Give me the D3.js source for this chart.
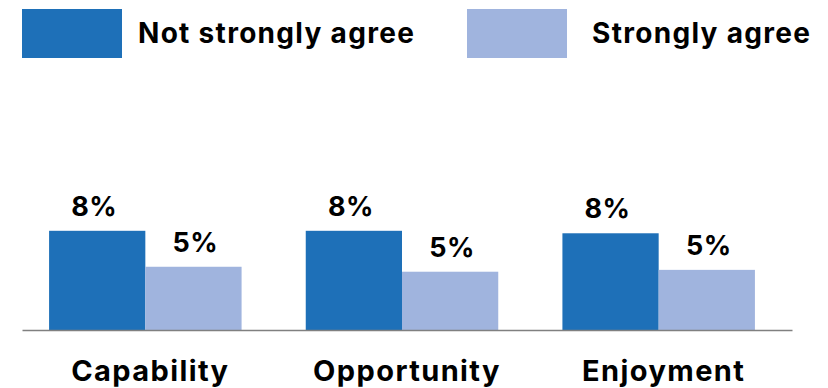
<!DOCTYPE html>
<html>
<head>
<meta charset="utf-8">
<script src="https://cdn.jsdelivr.net/npm/d3@7"></script>
<style>
  body { margin: 0; background: #fff; }
  text { font-family: Inter, "Noto Sans", sans-serif; font-weight: 700; fill: #000; }
</style>
</head>
<body>
<div id="chart"></div>
<script>
(() => {

  let categories = ['Capability', 'Opportunity', 'Enjoyment'];
  let seriesNames = ['Not strongly agree', 'Strongly agree'];
  let notStronglyAgree = [8.0, 8.0, 7.8];
  let stronglyAgree = [5.1, 4.7, 4.85];
  let valueLabels = [['8%', '5%'], ['8%', '5%'], ['8%', '5%']];

  let colors = ['#1e70b8', '#a0b4de'];

  let width = 828;
  let height = 388;
  let baseline = 330;

  let svg = d3.select('#chart')
    .append('svg')
    .attr('width', width)
    .attr('height', height);

  let data = categories.map((c, i) => ({
    cat: c,
    values: [notStronglyAgree[i], stronglyAgree[i]],
    labels: valueLabels[i]
  }));

  // outer bands split the axis evenly, bars sit a little left of centre
  let x0 = d3.scaleBand()
    .domain(categories)
    .range([22, 792])
    .paddingInner(0.25)
    .paddingOuter(0.125);

  let x1 = d3.scaleBand()
    .domain([0, 1])
    .range([-5, x0.bandwidth() - 5]);

  let y = d3.scaleLinear()
    .domain([0, 10])
    .range([baseline, baseline - 124]);

  let groups = svg.selectAll('.grp')
    .data(data)
    .enter()
    .append('g')
    .attr('class', 'grp')
    .attr('transform', d => `translate(${x0(d.cat)},0)`);

  groups.selectAll('rect')
    .data(d => d.values.map((v, j) => ({ v, j, label: d.labels[j] })))
    .enter()
    .append('rect')
    .attr('x', d => x1(d.j))
    .attr('y', d => y(d.v))
    .attr('width', x1.bandwidth())
    .attr('height', d => baseline - y(d.v))
    .attr('fill', d => colors[d.j]);

  //labels sit slightly off the bar centres in the original
  groups.selectAll('.val')
    .data(d => d.values.map((v, j) => ({ v, j, label: d.labels[j] })))
    .enter()
    .append('text')
    .attr('class', 'val')
    .attr('x', d => x1(d.j) + x1.bandwidth() / 2 + (d.j === 0 ? -3 : 2))
    .attr('y', d => y(d.v) - 15)
    .attr('text-anchor', 'middle')
    .style('font-size', '27px')
    .style('letter-spacing', '0.5px')
    .text(d => d.label);

  // axis line
  let xAxis = d3.axisBottom(x0).tickSize(0);
  let ax = svg.append('g')
    .attr('transform', `translate(0,${baseline})`)
    .call(xAxis);
  ax.select('.domain').attr('stroke', '#808080').attr('stroke-width', 1.5);
  ax.selectAll('text')
    .attr('y', 51)
    .attr('dy', 0)
    .style('font-size', '29px')
    .style('letter-spacing', '1.4px')
    .style('font-family', 'Inter, "Noto Sans", sans-serif')
    .attr('fill', '#000');

  // legend
  let legendX = [22, 467];
  let legend = svg.selectAll('.leg')
    .data(seriesNames)
    .enter()
    .append('g')
    .attr('class', 'leg')
    .attr('transform', (d, i) => `translate(${legendX[i]},9)`);

  legend.append('rect')
    .attr('width', 100)
    .attr('height', 49)
    .attr('fill', (d, i) => colors[i]);

  legend.append('text')
    .attr('x', (d, i) => i === 0 ? 116 : 125)
    .attr('y', 34)
    .style('font-size', '28px')
    .style('letter-spacing', '1.3px')
    .text(d => d);

})();
</script>
</body>
</html>
